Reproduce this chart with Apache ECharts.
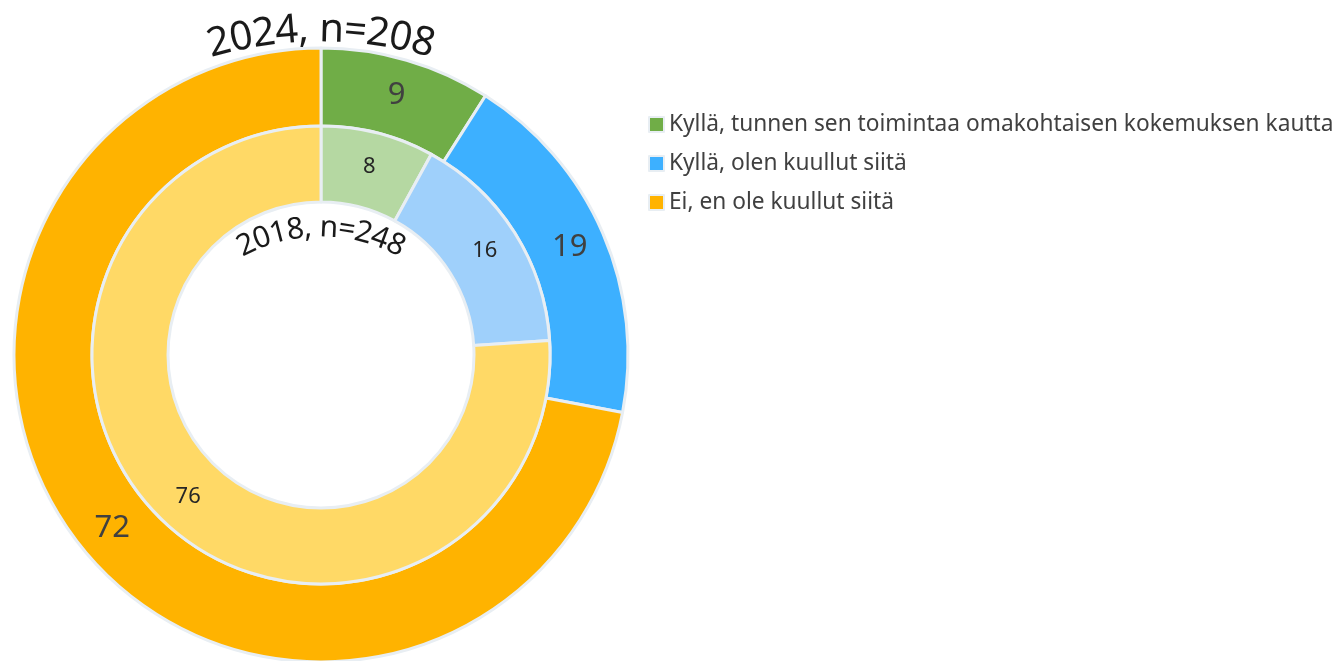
<!DOCTYPE html>
<html>
<head>
<meta charset="utf-8">
<script src="https://cdn.jsdelivr.net/npm/echarts@6/dist/echarts.min.js"></script>
<style>
  html, body { margin: 0; padding: 0; background: #ffffff; }
  #chart { width: 1339px; height: 661px; }
</style>
</head>
<body>
<div id="chart"></div>
<script>
// Answer categories and shares (%) per survey year
const categories = [
  'Kyllä, tunnen sen toimintaa omakohtaisen kokemuksen kautta',
  'Kyllä, olen kuullut siitä',
  'Ei, en ole kuullut siitä'
];
const values2024 = [9, 19, 72];
const values2018 = [8, 16, 76];
const title2024 = '2024, n=208';
const title2018 = '2018, n=248';

// Ring colours: strong for 2024 (outer), light for 2018 (inner)
const colorsOuter = ['#70AD47', '#3DB0FF', '#FFB300'];
const colorsInner = ['#B5D8A2', '#9FD0FB', '#FFD966'];
const FONT = '"Noto Sans", "Open Sans", sans-serif';

const chart = echarts.init(document.getElementById('chart'), null, { renderer: 'canvas' });

// Lay out a string character by character along a circular arc (centred at the top)
const measureCtx = document.createElement('canvas').getContext('2d');
function arcText(str, cx, cy, r, size, color) {
  measureCtx.font = size + 'px ' + FONT;
  const widths = Array.from(str).map(ch => measureCtx.measureText(ch).width);
  const total = widths.reduce((a, b) => a + b, 0);
  let acc = -total / 2;
  return Array.from(str).map((ch, i) => {
    const theta = (acc + widths[i] / 2) / r;
    acc += widths[i];
    return {
      type: 'text',
      x: cx + r * Math.sin(theta),
      y: cy - r * Math.cos(theta),
      rotation: -theta,
      silent: true,
      style: {
        text: ch,
        fontSize: size,
        fontFamily: FONT,
        fill: color,
        align: 'center',
        verticalAlign: 'middle'
      }
    };
  });
}

const ringBorder = { borderColor: '#E8EEF3', borderWidth: 3 };

chart.setOption({
  animation: false,
  backgroundColor: '#ffffff',
  legend: {
    orient: 'vertical',
    left: 643,
    top: 107,
    itemWidth: 15,
    itemHeight: 15,
    itemGap: 14,
    icon: 'rect',
    data: categories,
    textStyle: { fontSize: 22.7, fontFamily: FONT, color: '#404040', lineHeight: 25 }
  },
  series: [
    {
      name: '2024',
      type: 'pie',
      center: [321, 355],
      radius: [229, 307],
      startAngle: 90,
      clockwise: true,
      avoidLabelOverlap: false,
      label: {
        show: true,
        position: 'inside',
        formatter: '{c}',
        fontSize: 31,
        fontFamily: FONT,
        color: '#404040'
      },
      labelLine: { show: false },
      emphasis: { disabled: true },
      itemStyle: ringBorder,
      data: categories.map((name, i) => ({
        name, value: values2024[i], itemStyle: { color: colorsOuter[i] }
      }))
    },
    {
      name: '2018',
      type: 'pie',
      center: [321, 355],
      radius: [153, 229],
      startAngle: 90,
      clockwise: true,
      avoidLabelOverlap: false,
      label: {
        show: true,
        position: 'inside',
        formatter: '{c}',
        fontSize: 22,
        fontFamily: FONT,
        color: '#262626'
      },
      labelLine: { show: false },
      emphasis: { disabled: true },
      itemStyle: ringBorder,
      data: categories.map((name, i) => ({
        name, value: values2018[i], itemStyle: { color: colorsInner[i] }
      }))
    }
  ],
  graphic: [
    ...arcText(title2024, 321, 430, 400, 40, '#1a1a1a'),
    ...arcText(title2018, 321, 398, 170, 30, '#1a1a1a')
  ]
});
</script>
</body>
</html>
